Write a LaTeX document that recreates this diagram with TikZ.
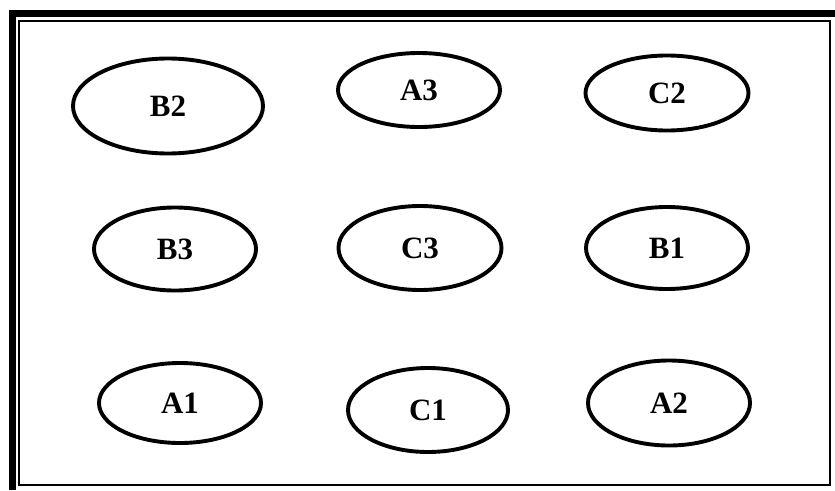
\documentclass[tikz,border=0pt]{standalone}
\usepackage{fontspec}
\setmainfont{Liberation Serif}
\usetikzlibrary{shapes.geometric}
\begin{document}
\begin{tikzpicture}[x=1pt,y=-1pt,
  oval/.style={draw,ellipse,line width=3.9pt,inner sep=0pt,
    font=\fontsize{31}{31}\selectfont\bfseries}]
\useasboundingbox (0,0) rectangle (835,490);
\fill[white] (0,0) rectangle (835,490);
% frame
\draw[line width=7pt] (12.5,490) -- (12.5,13.5) -- (835,13.5);
\draw[line width=1.6pt] (19,21) rectangle (830,485);
% ellipses
\node[oval,minimum width=190pt,minimum height=95pt] (b2) at (168,106) {B2};
\node[oval,minimum width=162pt,minimum height=74pt] (a3) at (419,90) {A3};
\node[oval,minimum width=163pt,minimum height=75pt] (c2) at (667,93) {C2};
\node[oval,minimum width=162pt,minimum height=83pt] (b3) at (175,249) {B3};
\node[oval,minimum width=163pt,minimum height=84pt] (c3) at (420,248) {C3};
\node[oval,minimum width=162pt,minimum height=82pt] (b1) at (667,248) {B1};
\node[oval,minimum width=162pt,minimum height=80pt] (a1) at (180,403) {A1};
\node[oval,minimum width=160pt,minimum height=84pt] (c1) at (428,410) {C1};
\node[oval,minimum width=162pt,minimum height=85pt] (a2) at (669,403) {A2};
\end{tikzpicture}
\end{document}
